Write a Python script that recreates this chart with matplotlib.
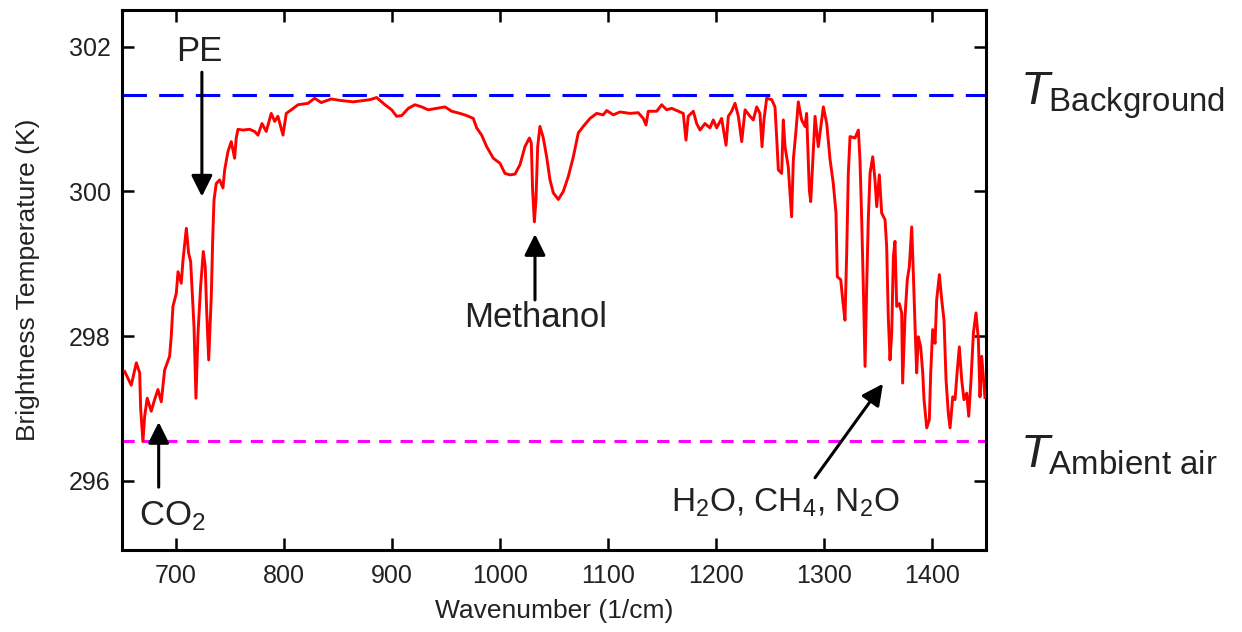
import matplotlib
matplotlib.use("Agg")
import matplotlib.pyplot as plt

plt.rcParams['font.family'] = ['Liberation Sans', 'DejaVu Sans']
plt.rcParams['mathtext.fontset'] = 'custom'
plt.rcParams['mathtext.rm'] = 'Liberation Sans'
plt.rcParams['mathtext.it'] = 'Liberation Sans:italic'
plt.rcParams['mathtext.bf'] = 'Liberation Sans:bold'

# spectre (cm-1, K)
wavenumber = [
    652.5, 658.6, 663.3, 666.4, 667.3, 669.4, 671.0, 673.4, 677.1, 680.2,
    683.3, 686.4, 689.5, 694.1, 695.6, 697.2, 700.3, 701.9, 704.9, 706.5,
    709.6, 711.7, 713.6, 716.7, 718.5, 720.4, 722.8, 725.3, 727.1, 728.4,
    730.3, 732.7, 734.0, 735.2, 737.3, 740.4, 743.5, 745.1, 748.1, 751.2,
    754.3, 755.8, 757.4, 762.0, 768.2, 772.8, 775.9, 779.6, 783.6, 788.2,
    791.4, 794.4, 799.1, 802.1, 806.8, 813.0, 822.2, 828.4, 834.5, 843.8,
    851.9, 864.2, 879.6, 885.8, 893.5, 899.7, 904.3, 909.0, 915.1, 921.3,
    927.5, 933.6, 941.4, 949.1, 955.3, 963.0, 969.2, 975.3, 978.4, 983.0,
    987.7, 993.8, 1000.0, 1004.6, 1009.3, 1013.9, 1018.5, 1023.1, 1027.2, 1029.0,
    1030.2, 1031.8, 1033.3, 1034.9, 1037.0, 1040.1, 1043.2, 1046.3, 1049.4, 1054.0,
    1058.6, 1063.3, 1067.9, 1072.5, 1077.1, 1083.3, 1089.5, 1095.6, 1098.8, 1104.9,
    1111.1, 1120.4, 1128.0, 1132.7, 1135.2, 1137.3, 1145.1, 1149.7, 1154.3, 1159.0,
    1165.1, 1169.7, 1172.2, 1174.3, 1179.0, 1182.1, 1185.2, 1189.8, 1194.4, 1197.5,
    1200.6, 1205.2, 1209.3, 1211.4, 1214.5, 1217.6, 1220.7, 1223.8, 1226.9, 1231.5,
    1234.5, 1237.7, 1240.7, 1242.6, 1244.4, 1246.9, 1251.6, 1254.6, 1256.2, 1257.7,
    1260.8, 1262.3, 1263.9, 1266.9, 1270.0, 1271.6, 1274.1, 1276.2, 1279.3, 1282.4,
    1283.9, 1286.4, 1287.7, 1289.5, 1291.7, 1294.7, 1297.9, 1299.4, 1302.5, 1305.6,
    1308.6, 1311.1, 1312.3, 1315.5, 1317.3, 1319.4, 1321.0, 1322.5, 1324.1, 1328.7,
    1331.8, 1333.3, 1334.9, 1336.4, 1338.0, 1339.5, 1341.0, 1342.6, 1345.1, 1347.2,
    1348.8, 1351.2, 1353.4, 1356.5, 1358.0, 1359.5, 1361.1, 1362.7, 1364.2, 1365.7,
    1367.3, 1369.7, 1371.9, 1372.8, 1375.0, 1377.1, 1379.0, 1381.2, 1382.7, 1384.3,
    1385.8, 1387.3, 1389.5, 1391.4, 1392.6, 1395.1, 1397.5, 1398.8, 1400.6, 1402.8,
    1404.3, 1406.8, 1409.0, 1411.1, 1413.0, 1415.1, 1416.7, 1419.2, 1421.3, 1423.4,
    1425.3, 1427.5, 1429.6, 1432.1, 1434.0, 1436.1, 1438.3, 1440.7, 1442.9, 1444.4,
    1446.0, 1449.0,
]
brightness_temp = [
    297.51, 297.32, 297.63, 297.49, 297.00, 296.54, 296.89, 297.14, 296.96, 297.12,
    297.26, 297.09, 297.53, 297.72, 297.99, 298.41, 298.59, 298.89, 298.73, 299.05,
    299.49, 299.15, 299.03, 298.13, 297.14, 298.04, 298.68, 299.17, 298.96, 298.36,
    297.67, 298.55, 299.33, 299.88, 300.11, 300.16, 300.05, 300.30, 300.55, 300.69,
    300.46, 300.74, 300.86, 300.85, 300.86, 300.83, 300.78, 300.94, 300.83, 301.08,
    300.97, 301.04, 300.78, 301.08, 301.13, 301.20, 301.22, 301.29, 301.23, 301.28,
    301.26, 301.24, 301.27, 301.30, 301.20, 301.13, 301.04, 301.05, 301.15, 301.20,
    301.17, 301.13, 301.15, 301.17, 301.11, 301.08, 301.05, 301.01, 300.88, 300.78,
    300.62, 300.46, 300.39, 300.25, 300.23, 300.24, 300.37, 300.62, 300.74, 300.67,
    300.02, 299.58, 299.88, 300.62, 300.90, 300.74, 300.48, 300.16, 299.98, 299.89,
    300.00, 300.21, 300.48, 300.81, 300.90, 301.01, 301.08, 301.06, 301.12, 301.06,
    301.10, 301.08, 301.09, 301.01, 300.92, 301.11, 301.11, 301.20, 301.13, 301.15,
    301.11, 301.08, 300.71, 301.04, 301.11, 300.94, 300.85, 300.94, 300.88, 300.99,
    300.88, 301.01, 300.64, 301.04, 301.11, 301.22, 301.04, 300.69, 301.13, 301.04,
    300.99, 301.17, 301.08, 300.62, 300.99, 301.29, 301.27, 301.17, 300.74, 300.30,
    300.25, 300.99, 300.62, 300.34, 299.65, 300.44, 300.85, 301.24, 300.99, 300.90,
    301.08, 300.02, 299.86, 300.39, 301.04, 300.62, 300.99, 301.17, 300.94, 300.44,
    300.11, 299.70, 298.82, 298.78, 298.50, 298.22, 299.15, 300.25, 300.76, 300.74,
    300.85, 300.44, 299.61, 298.68, 297.58, 298.68, 299.61, 300.25, 300.48, 300.16,
    299.79, 300.23, 299.70, 299.61, 299.24, 298.27, 297.67, 298.04, 299.10, 299.31,
    298.41, 298.45, 298.32, 297.35, 298.27, 298.78, 298.96, 299.51, 298.87, 298.13,
    297.49, 297.99, 297.85, 297.49, 297.12, 296.73, 296.84, 297.49, 298.09, 297.90,
    298.50, 298.85, 298.50, 298.22, 297.39, 296.93, 296.73, 297.16, 297.12, 297.53,
    297.85, 297.39, 297.12, 297.21, 296.89, 297.39, 298.04, 298.32, 297.95, 297.16,
    297.72, 297.15,
]

t_background = 301.34
t_ambient = 296.55

x_ticks = [700, 800, 900, 1000, 1100, 1200, 1300, 1400]
y_ticks = [296, 298, 300, 302]

fig = plt.figure(figsize=(12.42, 6.32), dpi=100)
ax = fig.add_axes([0.0982, 0.1297, 0.6957, 0.8544])

ax.plot(wavenumber, brightness_temp, color='#ff0000', lw=2.1, zorder=3)
ax.axhline(t_background, color='#0000ff', lw=2.2, linestyle=(0, (8, 4)), zorder=2)
ax.axhline(t_ambient, color='#ff00ff', lw=2.2, linestyle=(0, (4, 3)), zorder=2)

ax.set_xlim(650, 1450)
ax.set_ylim(295.04, 302.51)
ax.set_xticks(x_ticks)
ax.set_yticks(y_ticks)
ax.tick_params(direction='in', length=8.5, width=1.8, labelsize=18,
               top=True, right=True, labelcolor='#222222')
ax.tick_params(axis='x', pad=10)
ax.tick_params(axis='y', pad=8)
for s in ax.spines.values():
    s.set_linewidth(2.2)

ax.set_xlabel('Wavenumber (1/cm)', fontsize=19, labelpad=8, color='#222222')
ax.set_ylabel('Brightness Temperature (K)', fontsize=19, labelpad=21, color='#222222')

fleche = dict(arrowstyle='-|>,head_length=0.4,head_width=0.2', lw=2.2,
              color='black', mutation_scale=32, shrinkA=0, shrinkB=0)

# PE
ax.annotate('', xy=(724, 299.93), xytext=(724, 301.65), arrowprops=fleche)
ax.text(722, 301.93, 'PE', fontsize=25, ha='center', va='center', color='#222222')
# CO2
ax.annotate('', xy=(684, 296.81), xytext=(684, 295.91), arrowprops=fleche)
ax.text(697, 295.51, r'CO$_2$', fontsize=25, ha='center', va='center', color='#222222')
# Methanol
ax.annotate('', xy=(1032.4, 299.41), xytext=(1032.4, 298.5), arrowprops=fleche)
ax.text(1033, 298.25, 'Methanol', fontsize=25, ha='center', va='center', color='#222222')
# H2O, CH4, N2O
ax.annotate('', xy=(1354.6, 297.34), xytext=(1291.7, 296.04), arrowprops=fleche)
ax.text(1264, 295.69, r'H$_2$O, CH$_4$, N$_2$O', fontsize=24, ha='center',
        va='center', color='#222222')

# températures de référence, à droite du cadre
trans = ax.get_yaxis_transform()
ax.text(1.039, 301.20, r'$T_{\mathrm{Background}}$', transform=trans, fontsize=34,
        va='baseline', ha='left', color='#222222', clip_on=False)
ax.text(1.039, 296.18, r'$T_{\mathrm{Ambient\ air}}$', transform=trans, fontsize=34,
        va='baseline', ha='left', color='#222222', clip_on=False)

fig.savefig('out.png', dpi=100)
